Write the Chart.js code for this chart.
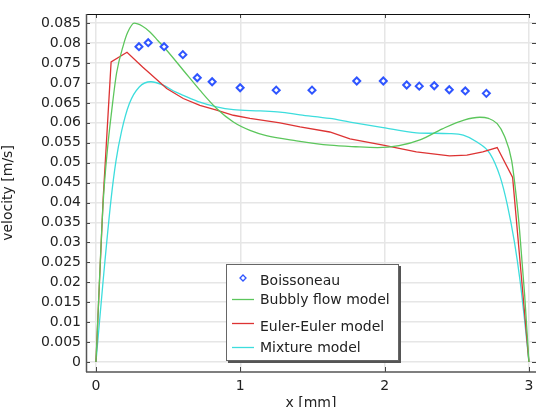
<!DOCTYPE html>
<html>
<head>
<meta charset="utf-8">
<script src="https://cdn.jsdelivr.net/npm/chart.js@4.4.0/dist/chart.umd.min.js"></script>
<style>
  html, body { margin: 0; padding: 0; background: #fff; }
  #wrap { position: relative; width: 536px; height: 407px; overflow: hidden; }
  #legend {
    position: absolute; left: 226px; top: 264px; width: 171px; height: 95px;
    background: #fff; border: 1px solid #666; box-shadow: 2px 2px 0 #555;
    font-family: "DejaVu Sans", sans-serif; font-size: 14px; color: #222;
  }
  .row { position: absolute; left: 0; height: 18px; line-height: 18px; white-space: nowrap; }
  .row span { position: absolute; left: 33px; top: 0; }
  .row canvas { position: absolute; left: 5px; top: 0; }
</style>
</head>
<body>
<div id="wrap">
  <canvas id="chart" width="536" height="407"></canvas>
  <div id="legend"></div>
</div>
<script>
// measured data (Boissoneau)
const xBoisson = [0.298, 0.362, 0.472, 0.602, 0.702, 0.805, 0.999, 1.249, 1.497, 1.807, 1.991, 2.153, 2.24, 2.344, 2.448, 2.559, 2.705];
const yBoisson = [0.0791, 0.0801, 0.0791, 0.0771, 0.0713, 0.0703, 0.0688, 0.0682, 0.0682, 0.0705, 0.0705, 0.0695, 0.0692, 0.0693, 0.0683, 0.068, 0.0674];

// Bubbly flow model
const xBubbly = [0, 0.05, 0.08, 0.109, 0.143, 0.19, 0.22, 0.265, 0.32, 0.374, 0.43, 0.49, 0.605, 0.72, 0.836, 0.952, 1.067, 1.18, 1.39, 1.62, 1.8, 1.95, 2.1, 2.25, 2.4, 2.55, 2.66, 2.72, 2.78, 2.83, 2.88, 2.915, 2.935, 2.97, 3.0];
const yBubbly = [0, 0.04, 0.0535, 0.063, 0.0725, 0.0795, 0.0827, 0.085, 0.0843, 0.0828, 0.0806, 0.0782, 0.0732, 0.0682, 0.0636, 0.0602, 0.0581, 0.0568, 0.0555, 0.0544, 0.054, 0.0538, 0.0543, 0.0558, 0.0585, 0.0607, 0.0614, 0.0611, 0.0598, 0.0567, 0.0506, 0.0406, 0.0331, 0.017, 0];

// Euler-Euler model
const xEuler = [0, 0.05, 0.105, 0.215, 0.323, 0.374, 0.49, 0.605, 0.72, 0.836, 0.952, 1.067, 1.275, 1.414, 1.62, 1.76, 1.99, 2.22, 2.45, 2.57, 2.68, 2.78, 2.887, 3.0];
const yEuler = [0, 0.041, 0.0753, 0.0777, 0.074, 0.0724, 0.0686, 0.0661, 0.0644, 0.0632, 0.0619, 0.0611, 0.06, 0.059, 0.0577, 0.056, 0.0544, 0.0527, 0.0517, 0.0519, 0.0527, 0.0538, 0.0463, 0];

// Mixture model
const xMixture = [0, 0.05, 0.104, 0.139, 0.178, 0.231, 0.3, 0.381, 0.462, 0.554, 0.605, 0.72, 0.836, 0.952, 1.137, 1.275, 1.414, 1.62, 1.76, 1.99, 2.22, 2.45, 2.545, 2.64, 2.73, 2.8, 2.85, 2.9, 2.94, 2.97, 3.0];
const yMixture = [0, 0.0205, 0.0406, 0.0505, 0.058, 0.0648, 0.069, 0.0703, 0.0695, 0.0677, 0.0669, 0.0652, 0.064, 0.0633, 0.063, 0.0627, 0.062, 0.0611, 0.0602, 0.0588, 0.0575, 0.0573, 0.0569, 0.0552, 0.0523, 0.0465, 0.0395, 0.03, 0.02, 0.0105, 0];

const xTicks = [0, 1, 2, 3];
const xTickLabels = ['0', '1', '2', '3'];
const yTicks = [0, 0.005, 0.01, 0.015, 0.02, 0.025, 0.03, 0.035, 0.04, 0.045, 0.05, 0.055, 0.06, 0.065, 0.07, 0.075, 0.08, 0.085];
const yTickLabels = ['0', '0.005', '0.01', '0.015', '0.02', '0.025', '0.03', '0.035', '0.04', '0.045', '0.05', '0.055', '0.06', '0.065', '0.07', '0.075', '0.08', '0.085'];

const FONT = '"DejaVu Sans", sans-serif';
const TEXT = '#222';

function pts(xs, ys) {
  return xs.map((x, i) => ({ x: x, y: ys[i] }));
}

const datasets = [
  {
    label: 'Boissoneau',
    data: pts(xBoisson, yBoisson),
    showLine: false,
    pointStyle: 'rectRot',
    pointRadius: 3.5,
    borderColor: '#2f55ff',
    backgroundColor: '#ffffff',
    borderWidth: 2
  },
  {
    label: 'Bubbly flow model',
    data: pts(xBubbly, yBubbly),
    showLine: true,
    borderColor: '#5cc65c',
    borderWidth: 1.3,
    pointRadius: 0,
    cubicInterpolationMode: 'monotone'
  },
  {
    label: 'Euler-Euler model',
    data: pts(xEuler, yEuler),
    showLine: true,
    borderColor: '#dd3333',
    borderWidth: 1.3,
    pointRadius: 0,
    tension: 0
  },
  {
    label: 'Mixture model',
    data: pts(xMixture, yMixture),
    showLine: true,
    borderColor: '#3ddddd',
    borderWidth: 1.3,
    pointRadius: 0,
    cubicInterpolationMode: 'monotone'
  }
];

// frame and inward tick marks, COMSOL style
const framePlugin = {
  id: 'frame',
  afterDraw(chart) {
    const ctx = chart.ctx;
    const a = chart.chartArea;
    const x = chart.scales.x, y = chart.scales.y;
    const seg = (x1, y1, x2, y2) => { ctx.beginPath(); ctx.moveTo(x1, y1); ctx.lineTo(x2, y2); ctx.stroke(); };
    ctx.save();
    ctx.lineWidth = 1;
    ctx.strokeStyle = '#444';
    xTicks.forEach(v => {
      const px = Math.round(x.getPixelForValue(v)) + 0.5;
      seg(px, a.bottom, px, a.bottom - 5);
      seg(px, a.top, px, a.top + 4);
    });
    yTicks.forEach(v => {
      const py = Math.round(y.getPixelForValue(v)) + 0.5;
      seg(a.right, py, a.right - 4, py);
      seg(a.left, py, a.left + 4, py);
    });
    ctx.strokeStyle = '#111';
    seg(a.left, a.top + 0.5, a.right - 6, a.top + 0.5);
    ctx.strokeStyle = '#555';
    ctx.lineWidth = 1.5;
    seg(a.left + 0.5, a.top, a.left + 0.5, a.bottom);
    seg(a.left, a.bottom, a.right, a.bottom);
    ctx.restore();
  }
};

const chart = new Chart(document.getElementById('chart'), {
  type: 'scatter',
  data: { datasets: datasets },
  options: {
    responsive: false,
    animation: false,
    layout: { autoPadding: false, padding: { top: 14, right: 0, left: 0, bottom: 0 } },
    plugins: { legend: { display: false }, tooltip: { enabled: false } },
    scales: {
      x: {
        type: 'linear',
        min: -0.069,
        max: 3.049,
        afterBuildTicks: s => { s.ticks = xTicks.map(v => ({ value: v })); },
        afterFit: s => { s.height = 35; s.paddingLeft = 0; s.paddingRight = 0; },
        grid: { color: '#e6e6e6', lineWidth: 1.5, drawTicks: false },
        border: { display: false },
        ticks: {
          padding: 6,
          color: TEXT,
          font: { family: FONT, size: 14 },
          maxRotation: 0,
          callback: (v) => xTickLabels[xTicks.indexOf(v)]
        },
        title: { display: true, text: 'x [mm]', color: TEXT, font: { family: FONT, size: 14, lineHeight: 1 }, padding: { top: 0, bottom: -3 } }
      },
      y: {
        type: 'linear',
        min: -0.0025,
        max: 0.0873,
        afterBuildTicks: s => { s.ticks = yTicks.map(v => ({ value: v })); },
        afterFit: s => { s.width = 86; s.paddingTop = 0; s.paddingBottom = 0; },
        grid: { color: '#e6e6e6', lineWidth: 1.5, drawTicks: false },
        border: { display: false },
        ticks: {
          padding: 5,
          color: TEXT,
          font: { family: FONT, size: 14 },
          callback: (v) => yTickLabels[yTicks.indexOf(v)]
        },
        title: { display: true, text: 'velocity [m/s]', color: TEXT, font: { family: FONT, size: 14 }, padding: { top: 0, bottom: 0 } }
      }
    }
  },
  plugins: [framePlugin]
});

// legend box inside the plot
const legendRowTop = [6, 25, 52, 73];
const legend = document.getElementById('legend');
datasets.forEach((ds, i) => {
  const row = document.createElement('div');
  row.className = 'row';
  row.style.top = legendRowTop[i] + 'px';
  const c = document.createElement('canvas');
  c.width = 24; c.height = 18;
  const g = c.getContext('2d');
  g.strokeStyle = ds.borderColor;
  if (ds.showLine) {
    g.lineWidth = 1.3;
    g.beginPath(); g.moveTo(0, i === 2 ? 6.5 : 9.5); g.lineTo(22, i === 2 ? 6.5 : 9.5); g.stroke();
  } else {
    g.lineWidth = 1.3;
    g.beginPath(); g.moveTo(11, 4); g.lineTo(14, 7); g.lineTo(11, 10); g.lineTo(8, 7); g.closePath(); g.stroke();
  }
  const t = document.createElement('span');
  t.textContent = ds.label;
  row.appendChild(c);
  row.appendChild(t);
  legend.appendChild(row);
});
</script>
</body>
</html>
